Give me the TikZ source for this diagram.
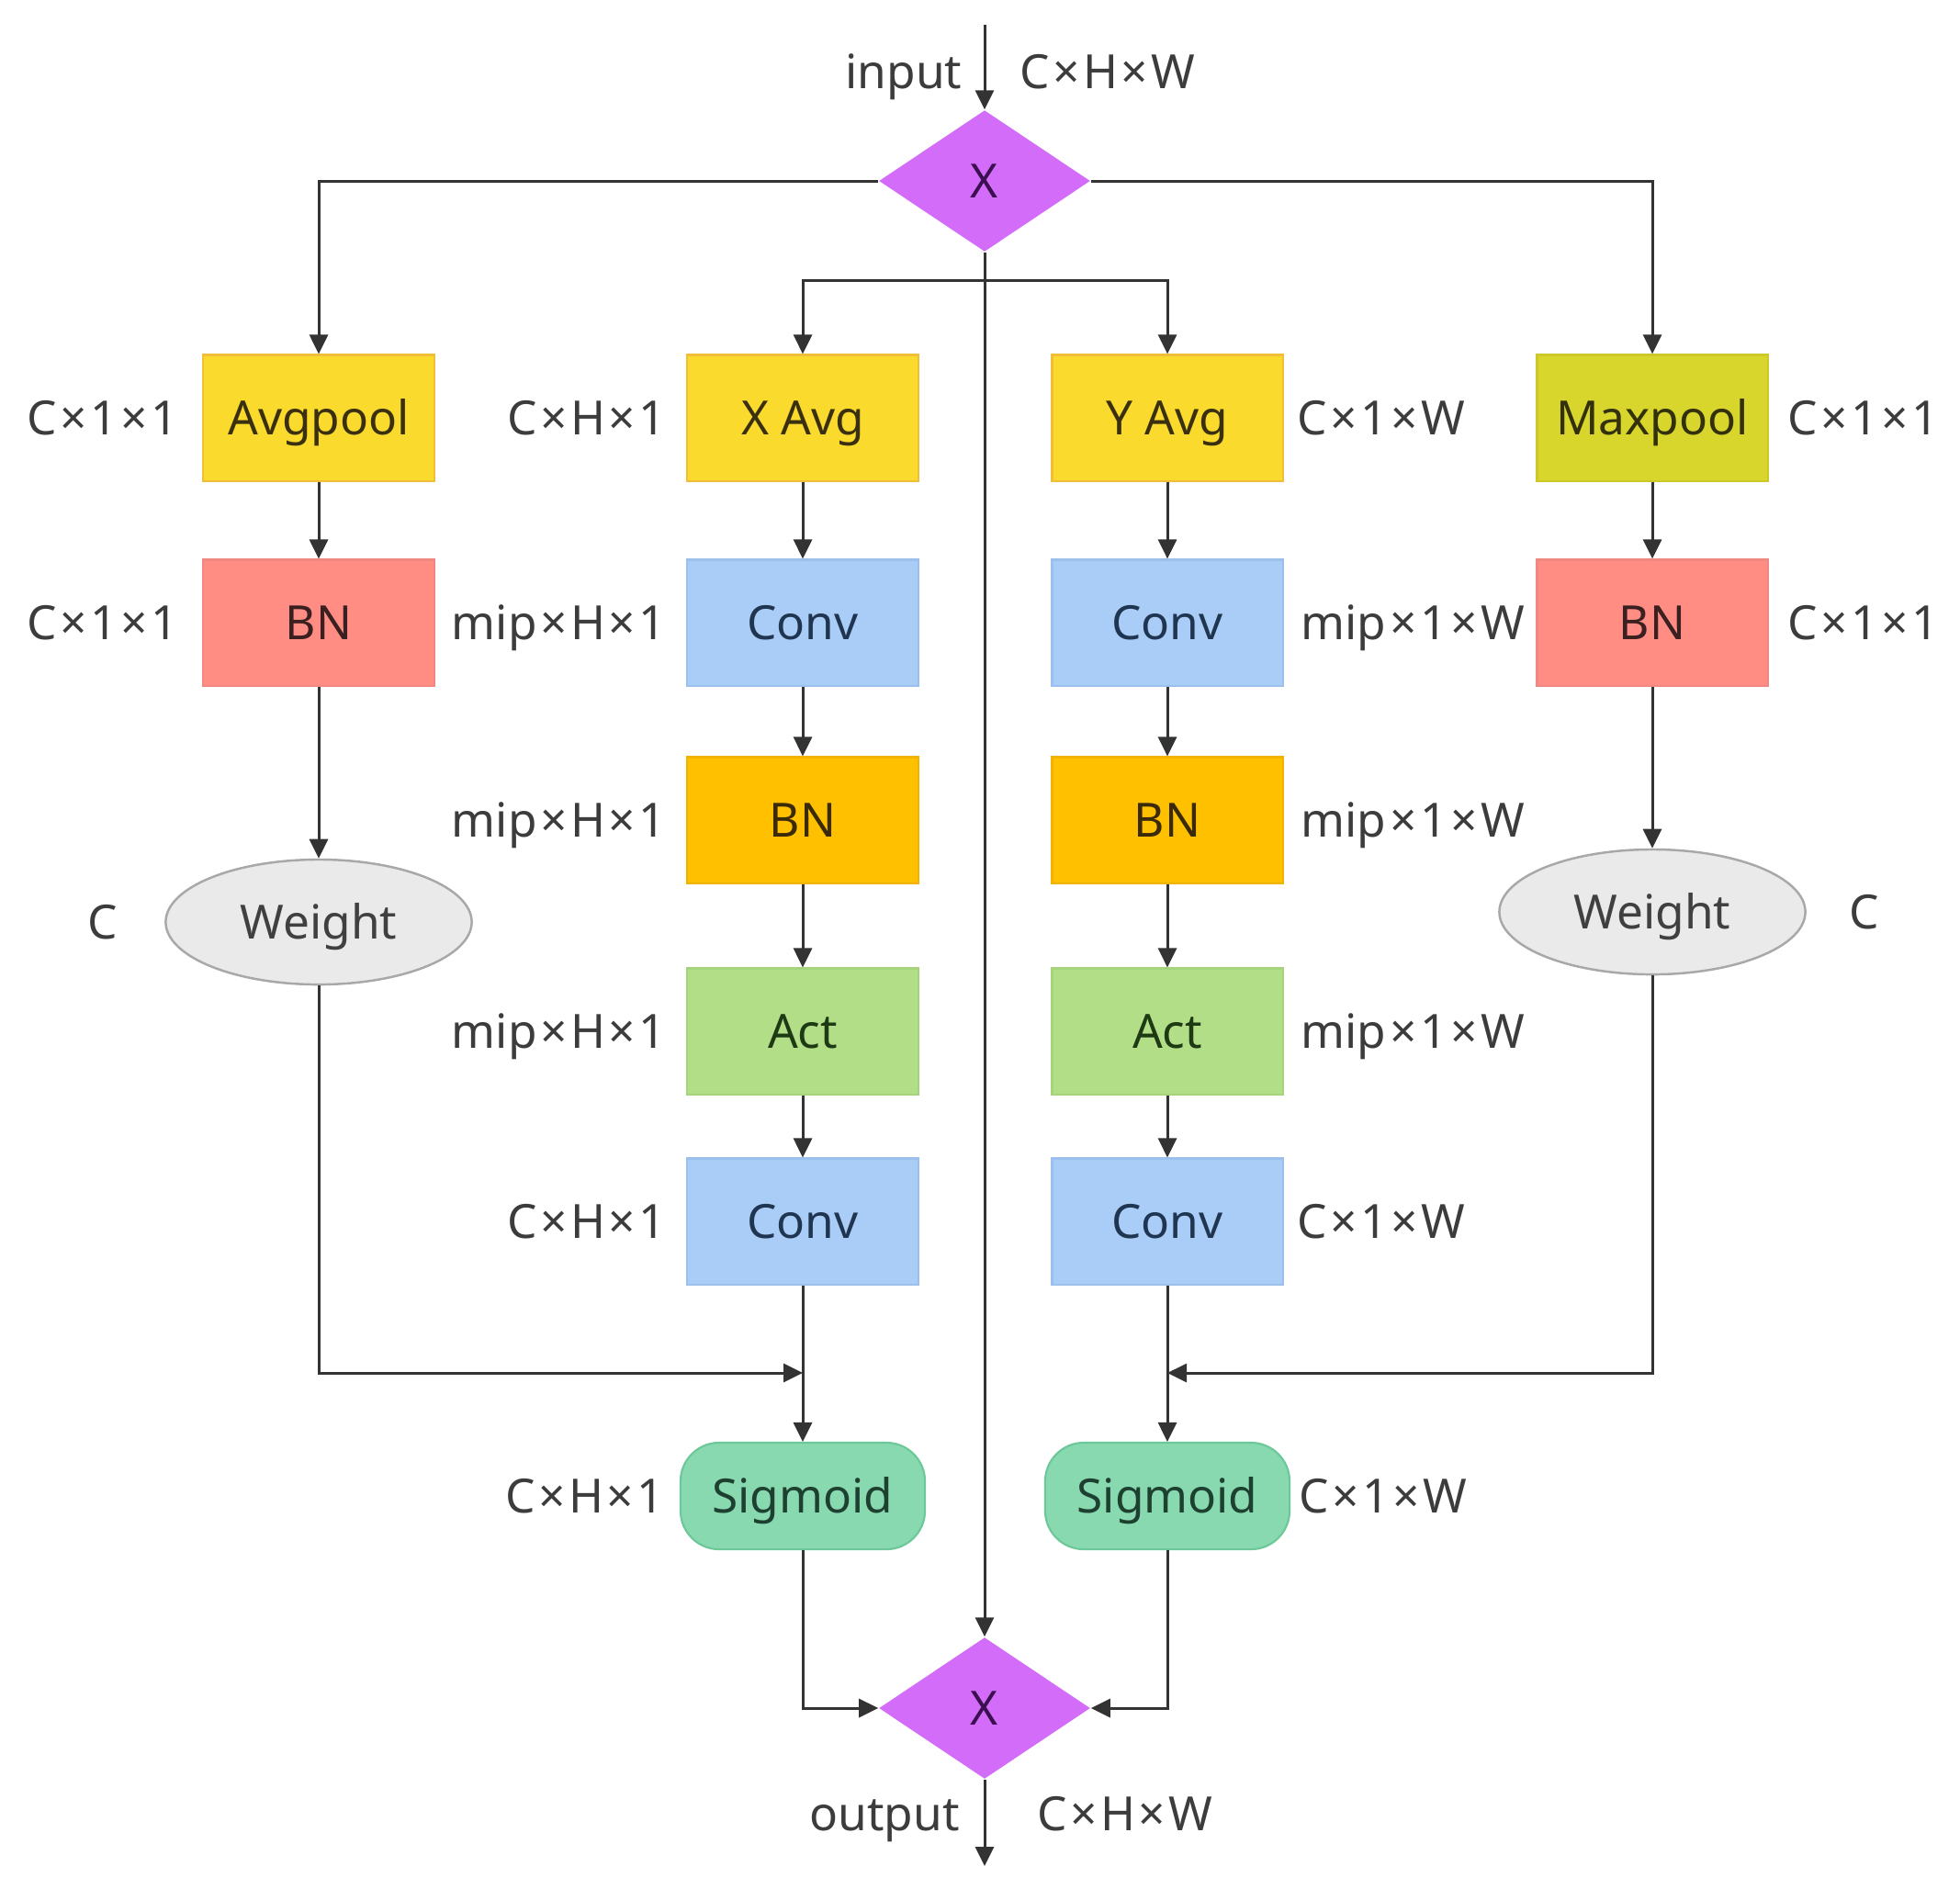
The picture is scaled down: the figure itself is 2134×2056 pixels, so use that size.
\documentclass[tikz,border=0pt]{standalone}
\usepackage{fontspec}
\setmainfont{Noto Sans}
\usetikzlibrary{shapes.geometric,arrows.meta,calc}
\newcommand{\tm}{\kern0.07em×\kern0.07em}
\definecolor{linec}{HTML}{333333}
\definecolor{labc}{HTML}{3C3C3C}
\begin{document}
\begin{tikzpicture}[x=0.01cm,y=-0.01cm,
  every node/.style={font=\fontsize{14.6}{17}\selectfont, text height=0.36cm, text depth=0cm},
  blk/.style={rectangle, draw, line width=0.6pt, minimum width=2.51cm, minimum height=1.37cm, inner sep=0pt},
  yel/.style={blk, fill=yellowc, draw=yellowd, text=yellowt},
  olv/.style={blk, fill=olivec, draw=olived, text=olivet},
  pnk/.style={blk, fill=pinkc, draw=pinkd, text=pinkt},
  blu/.style={blk, fill=bluec, draw=blued, text=bluet},
  org/.style={blk, fill=orgc, draw=orgd, text=orgt},
  grn/.style={blk, fill=grnc, draw=grnd, text=grnt},
  sig/.style={rectangle, rounded corners=0.42cm, draw=sigd, fill=sigc, text=sigt, line width=0.6pt, minimum width=2.66cm, minimum height=1.16cm, inner sep=0pt},
  wgt/.style={ellipse, draw=wgtd, fill=wgtc, text=wgtt, line width=0.7pt, minimum width=3.33cm, minimum height=1.36cm, inner sep=0pt},
  mul/.style={diamond, fill=mulc, draw=none, text=mult, minimum width=2.30cm, minimum height=1.54cm, inner sep=0pt, aspect=1.49},
  lab/.style={text=labc, inner sep=0pt},
  conn/.style={draw=linec, line width=0.85pt},
  arr/.style={conn, -{Triangle[length=0.21cm,width=0.2cm]}}
]
\definecolor{yellowc}{HTML}{FADA2C}\definecolor{yellowd}{HTML}{F0BE3A}\definecolor{yellowt}{HTML}{3A3010}
\definecolor{olivec}{HTML}{D8D52C}\definecolor{olived}{HTML}{CCC82A}\definecolor{olivet}{HTML}{33300C}
\definecolor{pinkc}{HTML}{FF8D83}\definecolor{pinkd}{HTML}{EE8880}\definecolor{pinkt}{HTML}{3A2020}
\definecolor{bluec}{HTML}{AACDF8}\definecolor{blued}{HTML}{9CC0EC}\definecolor{bluet}{HTML}{1F3550}
\definecolor{orgc}{HTML}{FFC000}\definecolor{orgd}{HTML}{F2B200}\definecolor{orgt}{HTML}{3A2A08}
\definecolor{grnc}{HTML}{B3DE88}\definecolor{grnd}{HTML}{A6D47C}\definecolor{grnt}{HTML}{1E3A14}
\definecolor{sigc}{HTML}{88D9AF}\definecolor{sigd}{HTML}{6CC898}\definecolor{sigt}{HTML}{1E4030}
\definecolor{wgtc}{HTML}{EAEAEA}\definecolor{wgtd}{HTML}{A8A8A8}\definecolor{wgtt}{HTML}{404040}
\definecolor{mulc}{HTML}{D36CF8}\definecolor{mult}{HTML}{3A1050}
\useasboundingbox[fill=white] (0,0) rectangle (2134,2056);

% multiplication nodes
\node[mul] (top) at (1072,197) {X};
\node[mul] (bot) at (1072,1860) {X};
\coordinate (in) at (1072,27);
\coordinate (out) at (1072,2032);
\coordinate (split) at (1072,305);

% column 1
\node[yel] (avg) at (347,455) {Avgpool};
\node[pnk] (bn1) at (347,678) {BN};
\node[wgt] (w1) at (347,1004) {Weight};
% column 2
\node[yel] (xavg) at (874,455) {X Avg};
\node[blu] (xc1) at (874,678) {Conv};
\node[org] (xbn) at (874,893) {BN};
\node[grn] (xact) at (874,1123) {Act};
\node[blu] (xc2) at (874,1330) {Conv};
\node[sig] (xsig) at (874,1629) {Sigmoid};
% column 3
\node[yel] (yavg) at (1271,455) {Y Avg};
\node[blu] (yc1) at (1271,678) {Conv};
\node[org] (ybn) at (1271,893) {BN};
\node[grn] (yact) at (1271,1123) {Act};
\node[blu] (yc2) at (1271,1330) {Conv};
\node[sig] (ysig) at (1271,1629) {Sigmoid};
% column 4
\node[olv] (maxp) at (1799,455) {Maxpool};
\node[pnk] (bn4) at (1799,678) {BN};
\node[wgt] (w4) at (1799,993) {Weight};

\coordinate (jl) at (874,1495);
\coordinate (jr) at (1271,1495);

% labels
\node[lab] (l1a) at (112,455) {C\tm1\tm1};
\node[lab] (l1b) at (112,678) {C\tm1\tm1};
\node[lab] (l1c) at (112,1004) {C};
\node[lab,anchor=east] (l2a) at (726,455) {C\tm H\tm1};
\node[lab,anchor=east] (l2b) at (726,678) {mip\tm H\tm1};
\node[lab,anchor=east] (l2c) at (726,893) {mip\tm H\tm1};
\node[lab,anchor=east] (l2d) at (726,1123) {mip\tm H\tm1};
\node[lab,anchor=east] (l2e) at (726,1330) {C\tm H\tm1};
\node[lab,anchor=east] (l2f) at (724,1629) {C\tm H\tm1};
\node[lab,anchor=west] (l3a) at (1412,455) {C\tm1\tm W};
\node[lab,anchor=west] (l3b) at (1416,678) {mip\tm1\tm W};
\node[lab,anchor=west] (l3c) at (1416,893) {mip\tm1\tm W};
\node[lab,anchor=west] (l3d) at (1416,1123) {mip\tm1\tm W};
\node[lab,anchor=west] (l3e) at (1412,1330) {C\tm1\tm W};
\node[lab,anchor=west] (l3f) at (1414,1629) {C\tm1\tm W};
\node[lab] (l4a) at (2029,455) {C\tm1\tm1};
\node[lab] (l4b) at (2029,678) {C\tm1\tm1};
\node[lab] (l4c) at (2030,993) {C};
\node[lab,anchor=base] (tin) at (984,96) {input};
\node[lab,anchor=base] (tin2) at (1206,96) {C\tm H\tm W};
\node[lab,anchor=base] (tout) at (963,1993) {output};
\node[lab,anchor=base] (tout2) at (1225,1993) {C\tm H\tm W};

% connectors
\draw[arr] (in) -- (top.north);
\draw[arr] (top.west) -| (avg.north);
\draw[arr] (top.east) -| (maxp.north);
\draw[arr] (top.south) -- (bot.north);
\draw[arr] (split) -| (xavg.north);
\draw[arr] (split) -| (yavg.north);

\draw[arr] (avg) -- (bn1);
\draw[arr] (bn1) -- (w1);
\draw[arr] (maxp) -- (bn4);
\draw[arr] (bn4) -- (w4);

\draw[arr] (xavg) -- (xc1);
\draw[arr] (xc1) -- (xbn);
\draw[arr] (xbn) -- (xact);
\draw[arr] (xact) -- (xc2);
\draw[arr] (xc2.south) -- (xsig.north);

\draw[arr] (yavg) -- (yc1);
\draw[arr] (yc1) -- (ybn);
\draw[arr] (ybn) -- (yact);
\draw[arr] (yact) -- (yc2);
\draw[arr] (yc2.south) -- (ysig.north);

\draw[arr] (w1.south) |- (jl);
\draw[arr] (w4.south) |- (jr);

\draw[arr] (xsig.south) |- (bot.west);
\draw[arr] (ysig.south) |- (bot.east);
\draw[arr] (bot.south) -- (out);
\end{tikzpicture}
\end{document}
